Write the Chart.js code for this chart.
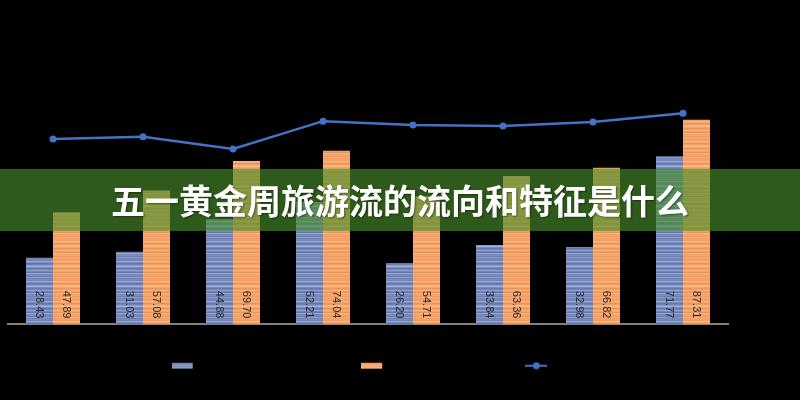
<!DOCTYPE html>
<html>
<head>
<meta charset="utf-8">
<script src="https://cdn.jsdelivr.net/npm/chart.js@4/dist/chart.umd.min.js"></script>
<style>
  html, body { margin: 0; padding: 0; background: #000; }
  #wrap { position: relative; width: 800px; height: 400px; background: #000; overflow: hidden; }
  #c { position: absolute; left: 0; top: 0; }
  #banner {
    position: absolute; left: 0; top: 169px; width: 800px; height: 62px;
    background: rgba(72, 142, 42, 0.64);
    color: #fff; text-align: center; line-height: 62px;
    font-family: "Noto Sans CJK SC", "Noto Sans", sans-serif;
    font-size: 34px; font-weight: 700;
    text-shadow: 1px 1px 2px rgba(0,0,0,0.45);
    white-space: nowrap;
  }
</style>
</head>
<body>
<div id="wrap">
  <canvas id="c" width="800" height="400"></canvas>
  <div id="banner">五一黄金周旅游流的流向和特征是什么</div>
</div>
<script>
// ---- data ----
const categories = ["1", "2", "3", "4", "5", "6", "7", "8"];
const seriesNames = ["国内出游人次（百万人次）", "国内旅游收入（亿元）", "恢复率（%）"];
const blueValues = [28.43, 31.03, 44.88, 52.21, 26.20, 33.84, 32.98, 71.77];
const orangeValues = [47.89, 57.08, 69.70, 74.04, 54.71, 63.36, 66.82, 87.31];
const lineValues = [79.1, 80.1, 74.8, 86.7, 85.1, 84.6, 86.3, 90.1];

// ---- styles ----
function stripePattern(base, offsets) {
  const cv = document.createElement('canvas');
  cv.width = 4; cv.height = offsets.length;
  const g = cv.getContext('2d');
  offsets.forEach((o, i) => {
    const c = base.map(v => Math.max(0, Math.min(255, Math.round(v + o))));
    g.fillStyle = `rgb(${c[0]},${c[1]},${c[2]})`;
    g.fillRect(0, i, 4, 1);
  });
  return g.createPattern(cv, 'repeat');
}
const stripeOffsets = [0, 38, 10, -12, 0, 22, 48, 6, -8, 0, 30, 4, -16, 42, 2, 12, -6, 26, 0, 8];
const bluePattern = stripePattern([112, 131, 180], stripeOffsets);
const orangePattern = stripePattern([240, 158, 100], stripeOffsets.map(o => o * 0.7));

function legendIcon(kind) {
  const cv = document.createElement('canvas');
  cv.width = 22; cv.height = 8;
  const g = cv.getContext('2d');
  if (kind === 'line') {
    g.strokeStyle = '#4472c4'; g.lineWidth = 2;
    g.beginPath(); g.moveTo(0, 4); g.lineTo(22, 4); g.stroke();
    g.fillStyle = '#4472c4';
    g.beginPath(); g.arc(11, 4, 3.5, 0, Math.PI * 2); g.fill();
  } else {
    const base = kind === 'blue' ? [112, 131, 180] : [240, 158, 100];
    g.fillStyle = `rgb(${base.join(',')})`;
    g.fillRect(0, 1, 21, 6);
    g.fillStyle = 'rgba(255,255,255,0.3)';
    g.fillRect(0, 3, 21, 1);
    g.fillRect(0, 5, 21, 1);
  }
  return cv;
}
const legendIcons = [legendIcon('blue'), legendIcon('orange'), legendIcon('line')];

const valueLabels = {
  id: 'valueLabels',
  afterDatasetsDraw(chart) {
    const ctx = chart.ctx;
    ctx.save();
    ctx.font = '11px "Liberation Sans", Arial, sans-serif';
    ctx.fillStyle = '#2a2a2a';
    ctx.textAlign = 'right';
    ctx.textBaseline = 'middle';
    chart.data.datasets.forEach((ds, di) => {
      if (ds.type !== 'bar') return;
      const meta = chart.getDatasetMeta(di);
      meta.data.forEach((el, i) => {
        ctx.save();
        ctx.translate(el.x, el.base - 6);
        ctx.rotate(Math.PI / 2);
        ctx.fillText(ds.data[i].toFixed(2), 0, 0);
        ctx.restore();
      });
    });
    ctx.restore();
  }
};

new Chart(document.getElementById('c'), {
  data: {
    labels: categories,
    datasets: [
      { type: 'bar', label: seriesNames[0], data: blueValues, backgroundColor: bluePattern, borderWidth: 0, order: 2,
        categoryPercentage: 0.6, barPercentage: 1.0 },
      { type: 'bar', label: seriesNames[1], data: orangeValues, backgroundColor: orangePattern, borderWidth: 0, order: 2,
        categoryPercentage: 0.6, barPercentage: 1.0 },
      { type: 'line', label: seriesNames[2], data: lineValues, borderColor: '#4472c4', backgroundColor: '#4472c4',
        borderWidth: 2.5, pointRadius: 3.5, pointBackgroundColor: '#4472c4', pointBorderWidth: 0, tension: 0, order: 0 }
    ]
  },
  options: {
    responsive: false,
    animation: false,
    layout: { padding: { top: 90, bottom: 18, left: 0, right: 0 } },
    plugins: {
      tooltip: { enabled: false },
      legend: {
        position: 'bottom',
        labels: {
          usePointStyle: true,
          pointStyleWidth: 22,
          padding: 10,
          color: '#000',
          font: { family: '"Noto Sans CJK SC", sans-serif', size: 12.6 },
          generateLabels: (chart) => chart.data.datasets.map((ds, i) => ({
            text: ds.label, pointStyle: legendIcons[i], fillStyle: 'transparent',
            strokeStyle: 'transparent', lineWidth: 0, hidden: false, datasetIndex: i, fontColor: '#000'
          }))
        }
      }
    },
    scales: {
      x: {
        grid: { display: false },
        ticks: { display: false },
        border: { display: true, color: '#808080', width: 2 },
        afterFit: (s) => { s.height = 25; }
      },
      y: {
        min: 0, max: 100,
        grid: { display: false },
        ticks: { display: false },
        border: { display: false },
        afterFit: (s) => { s.width = 8; }
      },
      y2: {
        position: 'right',
        grid: { display: false },
        ticks: { display: false },
        border: { display: false },
        afterFit: (s) => { s.width = 72; }
      }
    }
  },
  plugins: [valueLabels]
});
</script>
</body>
</html>
